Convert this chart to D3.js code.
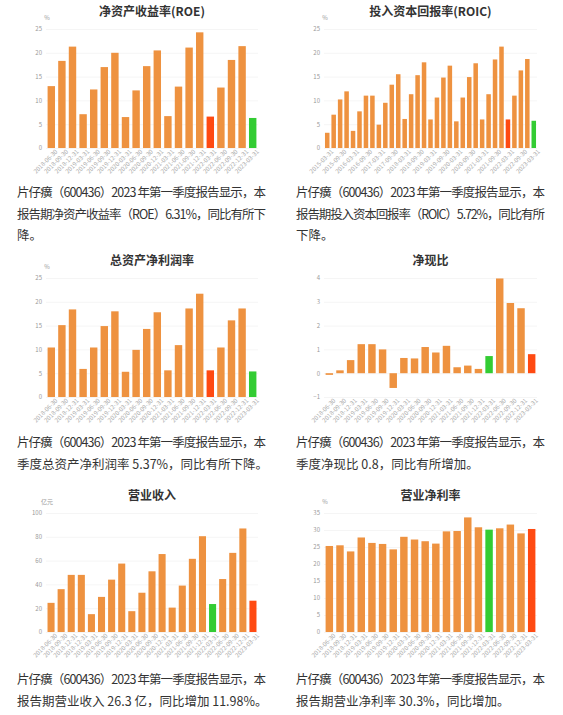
<!DOCTYPE html>
<html lang="zh">
<head>
<meta charset="utf-8">
<title>片仔癀 财务指标</title>
<script src="https://cdn.jsdelivr.net/npm/d3@7"></script>
<style>
  body { margin: 0; background: #fff; }
  text { font-family: "Noto Sans CJK SC", "Noto Sans", sans-serif; }
</style>
</head>
<body>
<script>
// 报告期
var quarterDates = ["2018-06-30","2018-09-30","2018-12-31","2019-03-31","2019-06-30","2019-09-30","2019-12-31",
  "2020-03-31","2020-06-30","2020-09-30","2020-12-31","2021-03-31","2021-06-30","2021-09-30","2021-12-31",
  "2022-03-31","2022-06-30","2022-09-30","2022-12-31","2023-03-31"];
var roicDates = ["2015-03-31","2015-06-30","2015-09-30","2015-12-31","2016-03-31","2016-06-30","2016-09-30","2016-12-31",
  "2017-03-31","2017-06-30","2017-09-30","2017-12-31","2018-03-31","2018-06-30","2018-09-30","2018-12-31",
  "2019-03-31","2019-06-30","2019-09-30","2019-12-31","2020-03-31","2020-06-30","2020-09-30","2020-12-31",
  "2021-03-31","2021-06-30","2021-09-30","2021-12-31","2022-03-31","2022-06-30","2022-09-30","2022-12-31","2023-03-31"];
var revenueDates = ["2018-06-30","2018-09-30","2018-12-31","2018-12-31","2019-03-31","2019-06-30","2019-09-30","2019-12-31",
  "2020-03-31","2020-06-30","2020-09-30","2020-12-31","2021-03-31","2021-06-30","2021-09-30","2021-12-31",
  "2022-03-31","2022-06-30","2022-09-30","2022-12-31","2023-03-31"];

// 数值（从图上读的）
var roeValues = [13.0,18.3,21.3,7.1,12.3,17.0,20.0,6.5,12.1,17.2,20.5,6.7,12.9,21.1,24.3,6.6,12.7,18.5,21.4,6.31];
var roicValues = [3.2,7.0,10.2,11.9,3.6,7.7,11.0,11.0,4.9,9.5,13.3,15.5,6.1,11.3,15.3,18.0,6.0,10.6,14.8,17.3,
  5.6,10.6,14.9,17.8,6.0,11.3,18.6,21.3,6.0,11.0,16.3,18.7,5.72];
var roaValues = [10.4,15.1,18.4,5.9,10.4,14.9,18.0,5.3,9.9,14.3,17.8,5.6,10.9,18.6,21.7,5.6,10.4,16.1,18.6,5.37];
var cashValues = [-0.07,0.12,0.55,1.22,1.22,1.0,-0.62,0.64,0.62,1.1,0.87,1.15,0.25,0.32,0.18,0.72,3.98,2.95,2.73,0.8];
var revenueValues = [24.5,36.0,48.0,48.0,15.0,29.5,44.0,57.5,17.5,33.0,51.0,65.5,20.5,39.0,61.5,80.5,23.5,44.5,66.5,87.0,26.3];
var marginValues = [25.3,25.5,23.7,27.8,26.2,25.9,24.3,28.0,27.2,26.7,26.0,29.6,29.7,33.7,30.8,30.1,30.5,31.6,29.0,30.3];

var roeTicks = [0,5,10,15,20,25];
var cashTicks = [-1,0,1,2,3,4];
var revenueTicks = [0,20,40,60,80,100];
var marginTicks = [0,5,10,15,20,25,30,35];

var introLine = "片仔癀（600436）2023 年第一季度报告显示，本";

var svg = d3.select("body").append("svg")
  .attr("width", 563)
  .attr("height", 715);

var barColor = "#ee9240";

function drawChart(c) {
  var g = svg.append("g");

  var x = d3.scaleBand()
    .domain(d3.range(c.values.length))
    .range([c.left, c.right])
    .paddingInner(0.3)
    .paddingOuter(0.15);

  var y = d3.scaleLinear()
    .domain([c.ticks[0], c.ticks[c.ticks.length - 1]])
    .range([c.bottom, c.top]);

  // 标题
  g.append("text")
    .attr("x", (c.left + c.right) / 2)
    .attr("y", c.titleY)
    .attr("text-anchor", "middle")
    .attr("font-size", 12)
    .attr("font-weight", "bold")
    .attr("fill", "#333")
    .text(c.title);

  if (c.unit) {
    g.append("text")
      .attr("x", c.left + 1)
      .attr("y", c.top - 9)
      .attr("text-anchor", "middle")
      .attr("font-size", 6)
      .attr("fill", "#999")
      .text(c.unit);
  }

  // y轴和网格
  var yAxis = g.append("g")
    .attr("transform", "translate(" + c.left + ",0)")
    .call(d3.axisLeft(y).tickValues(c.ticks).tickFormat(d3.format("d"))
      .tickSize(-(c.right - c.left)).tickPadding(4));
  yAxis.select(".domain").remove();
  yAxis.selectAll(".tick line").attr("stroke", "#eeeeee").attr("stroke-width", 0.6);
  yAxis.selectAll(".tick text").attr("fill", "#999").attr("font-size", 6);

  // 同比两根柱子：高的红，低的绿
  var cur = c.values.length - 1;
  var prev = c.prevIndex;
  var hiColor = "#ff4a12", loColor = "#33cc33";

  g.selectAll("rect")
    .data(c.values)
    .enter()
    .append("rect")
    .attr("x", function(d, i) { return x(i); })
    .attr("width", x.bandwidth())
    .attr("y", function(d) { return y(Math.max(d, 0)); })
    .attr("height", function(d) { return Math.abs(y(d) - y(0)); })
    .attr("fill", function(d, i) {
      if (i === cur) return c.values[cur] >= c.values[prev] ? hiColor : loColor;
      if (i === prev) return c.values[prev] > c.values[cur] ? hiColor : loColor;
      return barColor;
    });

  // x轴日期
  var xAxis = g.append("g")
    .attr("transform", "translate(0," + c.bottom + ")")
    .call(d3.axisBottom(x)
      .tickValues(d3.range(0, c.values.length, c.labelStep))
      .tickFormat(function(i) { return c.dates[i]; })
      .tickSize(0)
      .tickPadding(4));
  xAxis.select(".domain").remove();
  xAxis.selectAll(".tick text")
    .attr("fill", "#aaa")
    .attr("font-size", 6)
    .attr("text-anchor", "end")
    .attr("dx", "0.3em")
    .attr("dy", "0.6em")
    .attr("transform", "rotate(-45)");

  // 说明文字
  var lines = [introLine].concat(c.note);
  lines.forEach(function(line, k) {
    var t = g.append("text")
      .attr("x", c.textX)
      .attr("y", c.textY + k * 21.5)
      .attr("font-size", 12.5)
      .attr("fill", "#333")
      .text(line);
    if (k < lines.length - 1 || c.fullLast) {
      t.attr("textLength", 249).attr("lengthAdjust", "spacing");
    }
  });
}

drawChart({ title: "净资产收益率(ROE)", unit: "%", dates: quarterDates, values: roeValues, prevIndex: 15,
  ticks: roeTicks, left: 46, right: 258, top: 29, bottom: 148, titleY: 16, labelStep: 1,
  textX: 17, textY: 197, note: ["报告期净资产收益率（ROE）6.31%，同比有所下", "降。"] });

drawChart({ title: "投入资本回报率(ROIC)", unit: "%", dates: roicDates, values: roicValues, prevIndex: 28,
  ticks: roeTicks, left: 324, right: 537, top: 29, bottom: 148, titleY: 16, labelStep: 2,
  textX: 296, textY: 197, note: ["报告期投入资本回报率（ROIC）5.72%，同比有所", "下降。"] });

drawChart({ title: "总资产净利润率", unit: "%", dates: quarterDates, values: roaValues, prevIndex: 15,
  ticks: roeTicks, left: 46, right: 258, top: 278, bottom: 397, titleY: 265, labelStep: 1,
  textX: 17, textY: 447, note: ["季度总资产净利润率 5.37%，同比有所下降。"] });

drawChart({ title: "净现比", unit: null, dates: quarterDates, values: cashValues, prevIndex: 15,
  ticks: cashTicks, left: 324, right: 537, top: 278, bottom: 397, titleY: 265, labelStep: 1,
  textX: 296, textY: 447, note: ["季度净现比 0.8，同比有所增加。"] });

drawChart({ title: "营业收入", unit: "亿元", dates: revenueDates, values: revenueValues, prevIndex: 16,
  ticks: revenueTicks, left: 46, right: 258, top: 513, bottom: 632, titleY: 500, labelStep: 1,
  textX: 17, textY: 684, note: ["报告期营业收入 26.3 亿，同比增加 11.98%。"] });

drawChart({ title: "营业净利率", unit: "%", dates: quarterDates, values: marginValues, prevIndex: 15,
  ticks: marginTicks, left: 324, right: 537, top: 513, bottom: 632, titleY: 500, labelStep: 1,
  textX: 296, textY: 684, note: ["报告期营业净利率 30.3%，同比增加。"] });
</script>
</body>
</html>
